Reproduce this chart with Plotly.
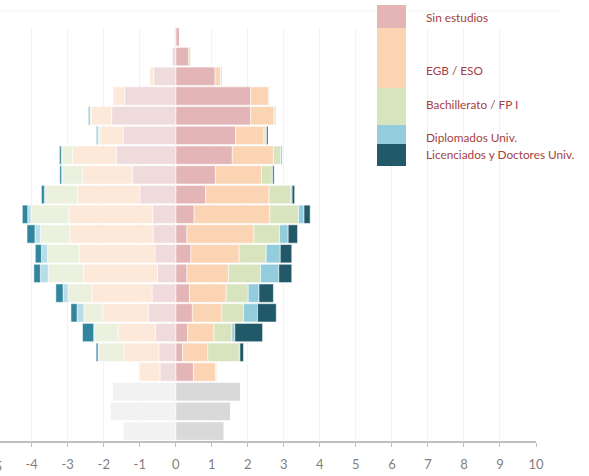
import plotly.graph_objects as go

# Age groups, bottom (0-4) to top (100+)
ages = ["0-4", "5-9", "10-14", "15-19", "20-24", "25-29", "30-34", "35-39", "40-44",
        "45-49", "50-54", "55-59", "60-64", "65-69", "70-74", "75-79", "80-84",
        "85-89", "90-94", "95-99", "100+"]

# Right side (full colours)
gray_right = [1.35, 1.53, 1.80, 0, 0, 0, 0, 0, 0, 0, 0, 0, 0, 0, 0, 0, 0, 0, 0, 0, 0]
sin_right = [0, 0, 0, 0.49, 0.19, 0.33, 0.46, 0.38, 0.31, 0.42, 0.31, 0.51, 0.83, 1.10,
             1.57, 1.66, 2.08, 2.08, 1.09, 0.36, 0.11]
egb_right = [0, 0, 0, 0.61, 0.70, 0.73, 0.82, 1.02, 1.15, 1.34, 1.86, 2.10, 1.76, 1.28,
             1.14, 0.79, 0.65, 0.50, 0.15, 0.07, 0]
bach_right = [0, 0, 0, 0.05, 0.87, 0.50, 0.60, 0.61, 0.89, 0.75, 0.71, 0.80, 0.60, 0.30,
              0.20, 0.04, 0.03, 0.02, 0.02, 0, 0]
dipl_right = [0, 0, 0, 0, 0.02, 0.08, 0.39, 0.30, 0.51, 0.39, 0.24, 0.15, 0.04, 0.01,
              0.02, 0.03, 0.01, 0.01, 0.02, 0, 0]
lic_right = [0, 0, 0, 0, 0.10, 0.77, 0.52, 0.40, 0.36, 0.32, 0.26, 0.17, 0.07, 0.04,
             0.02, 0.04, 0.01, 0.01, 0.02, 0, 0]

# Left side (faded colours)
gray_left = [1.46, 1.81, 1.75, 0, 0, 0, 0, 0, 0, 0, 0, 0, 0, 0, 0, 0, 0, 0, 0, 0, 0]
sin_left = [0, 0, 0, 0.44, 0.47, 0.56, 0.76, 0.66, 0.51, 0.58, 0.63, 0.64, 1.00, 1.21,
            1.65, 1.46, 1.78, 1.42, 0.61, 0.10, 0.03]
egb_left = [0, 0, 0, 0.58, 0.97, 1.04, 1.27, 1.67, 2.05, 2.10, 2.31, 2.33, 1.73, 1.38,
            1.22, 0.65, 0.57, 0.32, 0.11, 0.02, 0]
bach_left = [0, 0, 0, 0.01, 0.71, 0.65, 0.52, 0.66, 0.98, 0.88, 0.82, 1.05, 0.88, 0.56,
             0.29, 0.03, 0.02, 0, 0, 0, 0]
dipl_left = [0, 0, 0, 0, 0.01, 0.03, 0.19, 0.14, 0.22, 0.17, 0.15, 0.09, 0.04, 0.02,
             0.02, 0.03, 0.02, 0, 0, 0, 0]
lic_left = [0, 0, 0, 0, 0.05, 0.31, 0.17, 0.20, 0.18, 0.17, 0.22, 0.15, 0.08, 0.05,
            0.05, 0.03, 0.03, 0, 0, 0, 0]

legend_labels = ["Sin estudios", "EGB / ESO", "Bachillerato / FP I",
                 "Diplomados Univ.", "Licenciados y Doctores Univ."]
tick_vals = list(range(-4, 11))
tick_text = [str(v) for v in tick_vals]
edge_tick = -5  # partially visible label at the left edge

# Styles
right_colors = ["#E4B5B6", "#FBD4B4", "#D7E4BD", "#93CDDD", "#215968"]
left_colors = ["#F0DBDC", "#FDE9D9", "#EBF1DE", "#B7DEE8", "#31859C"]
gray_colors = ["#D9D9D9", "#F2F2F2"]
x_range = [-4.88, 10]

fig = go.Figure()
line = dict(color="rgba(255,255,255,0.9)", width=0.6)

fig.add_trace(go.Bar(y=ages, x=gray_right, orientation="h",
                     marker=dict(color=gray_colors[0], line=line), showlegend=False))
fig.add_trace(go.Bar(y=ages, x=[-v for v in gray_left], orientation="h",
                     marker=dict(color=gray_colors[1], line=line), showlegend=False))

right_series = [sin_right, egb_right, bach_right, dipl_right, lic_right]
left_series = [sin_left, egb_left, bach_left, dipl_left, lic_left]
for name, vals, col in zip(legend_labels, right_series, right_colors):
    fig.add_trace(go.Bar(y=ages, x=vals, orientation="h", name=name,
                         marker=dict(color=col, line=line), showlegend=False))
for name, vals, col in zip(legend_labels, left_series, left_colors):
    fig.add_trace(go.Bar(y=ages, x=[-v for v in vals], orientation="h", name=name,
                         marker=dict(color=col, line=line), showlegend=False))

# Legend blocks (pixel layout of the legend column)
W, H = 589, 476
ml, mr, mt, mb = 0, 53, 27, 35
pw, ph = W - ml - mr, H - mt - mb
def px_x(px):
    return (px - ml) / pw
def px_y(py):
    return (H - mb - py) / ph

block_edges = [5, 28, 88, 125, 144, 166]
text_y = [18, 70, 104, 137, 154]
shapes = []
annotations = []
for i, col in enumerate(right_colors):
    shapes.append(dict(type="rect", xref="paper", yref="paper",
                       x0=px_x(377), x1=px_x(406),
                       y0=px_y(block_edges[i + 1]), y1=px_y(block_edges[i]),
                       fillcolor=col, line=dict(width=0), layer="above"))
    annotations.append(dict(text=legend_labels[i], xref="paper", yref="paper",
                            x=px_x(424), y=px_y(text_y[i]), xanchor="left",
                            yanchor="middle", showarrow=False,
                            font=dict(family="Lato", size=11.8, color="#A5423F")))

# edge tick label (-5) just outside the visible range, cut by the edge as in the original
annotations.append(dict(text=str(edge_tick), xref="paper", yref="paper",
                        x=(edge_tick - x_range[0]) / (x_range[1] - x_range[0]),
                        y=px_y(466), xanchor="center", yanchor="middle",
                        showarrow=False,
                        font=dict(family="Lato", size=13, color="#7F7F7F")))

# faint top frame line
shapes.append(dict(type="line", xref="paper", yref="paper", x0=0, x1=px_x(560),
                   y0=px_y(11), y1=px_y(11), line=dict(color="#F4F4F4", width=1),
                   layer="below"))

fig.update_layout(
    width=W, height=H,
    margin=dict(l=ml, r=mr, t=mt, b=mb, autoexpand=False),
    barmode="relative",
    bargap=0.07,
    hovermode=False,
    plot_bgcolor="white",
    paper_bgcolor="white",
    shapes=shapes,
    annotations=annotations,
    xaxis=dict(range=x_range, tickvals=tick_vals, ticktext=tick_text,
               automargin=False,
               showgrid=True, gridcolor="#F2F2F2", gridwidth=1,
               zeroline=False, showline=True, linecolor="#BFBFBF", linewidth=1.5,
               ticks="outside", ticklen=4, tickcolor="#BFBFBF",
               ticklabelstandoff=7,
               tickfont=dict(family="Lato", size=13, color="#7F7F7F")),
    yaxis=dict(showticklabels=False, showgrid=False, zeroline=False,
               automargin=False,
               categoryorder="array", categoryarray=ages,
               range=[-0.5, len(ages) - 0.5]),
)

fig.write_html("out.html", config={"displayModeBar": False, "staticPlot": True},
               post_script="document.body.style.margin='0px';document.body.style.overflow='hidden';")
